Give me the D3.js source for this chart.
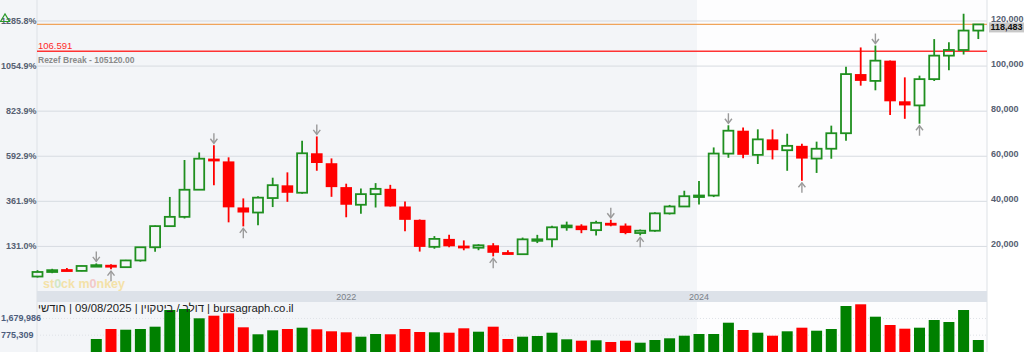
<!DOCTYPE html>
<html>
<head>
<meta charset="utf-8">
<script src="https://cdn.jsdelivr.net/npm/d3@7"></script>
<style>
  body { margin: 0; background: #fff; overflow: hidden; }
  svg { display: block; font-family: "Liberation Sans", Arial, sans-serif; }
</style>
</head>
<body>
<div id="chart"></div>
<script>
// monthly candles, Apr 2020 .. Aug 2025
const months = [
  "04/2020","05/2020","06/2020","07/2020","08/2020","09/2020","10/2020","11/2020","12/2020",
  "01/2021","02/2021","03/2021","04/2021","05/2021","06/2021","07/2021","08/2021","09/2021","10/2021","11/2021","12/2021",
  "01/2022","02/2022","03/2022","04/2022","05/2022","06/2022","07/2022","08/2022","09/2022","10/2022","11/2022","12/2022",
  "01/2023","02/2023","03/2023","04/2023","05/2023","06/2023","07/2023","08/2023","09/2023","10/2023","11/2023","12/2023",
  "01/2024","02/2024","03/2024","04/2024","05/2024","06/2024","07/2024","08/2024","09/2024","10/2024","11/2024","12/2024",
  "01/2025","02/2025","03/2025","04/2025","05/2025","06/2025","07/2025","08/2025"
];
const opens = [
  6641, 8659, 9463, 9145, 11322, 11679, 10796, 13780, 19633,
  28994, 33115, 45159, 58926, 57714, 37293, 35035, 41461, 47099, 43817, 61320, 56907,
  46311, 38481, 43194, 45554, 37714, 31792, 19820, 23336, 20050, 19432, 20495, 17168,
  16547, 23130, 23150, 28473, 29227, 27219, 30471, 29230, 25938, 26967, 34657, 37718,
  42280, 42569, 61168, 71334, 60610, 67489, 62673, 64619, 58969, 63335, 70216, 96461,
  93425, 102405, 84376, 82551, 94213, 104638, 107135, 115758
];
const highs = [
  9460, 10067, 10380, 11434, 12460, 12067, 14029, 19749, 29244,
  41946, 58330, 61683, 64863, 59519, 41295, 42235, 50482, 52853, 66930, 68789, 59041,
  47827, 45661, 48086, 47313, 39903, 31957, 24572, 25135, 22673, 20988, 21447, 18318,
  23919, 25134, 29159, 30996, 29821, 31389, 31814, 30176, 27489, 35150, 38415, 44705,
  48969, 63913, 73750, 72716, 71947, 71908, 69987, 65593, 66480, 73577, 99655, 108268,
  109115, 102500, 95000, 95758, 111970, 110584, 123218, 118600
];
const lows = [
  6202, 8117, 8975, 8977, 10981, 9917, 10416, 13243, 17619,
  28722, 32384, 45115, 47160, 30681, 28893, 29360, 37458, 39787, 43321, 53569, 42001,
  32933, 34459, 37260, 37697, 26700, 17708, 18966, 19600, 18290, 18319, 15599, 16398,
  16521, 21480, 19628, 26970, 25871, 24797, 28934, 25409, 24901, 26558, 34170, 37630,
  38555, 41885, 59323, 59120, 56555, 58600, 53550, 49121, 52598, 58896, 66836, 91317,
  89256, 78248, 76606, 74434, 93377, 98200, 105127, 112000
];
const closes = [
  8658, 9461, 9138, 11323, 11680, 10784, 13781, 19625, 29001,
  33114, 45137, 58918, 57750, 37332, 35040, 41626, 47166, 43790, 61318, 57005, 46306,
  38483, 43193, 45538, 37714, 31792, 19785, 23336, 20050, 19432, 20495, 17168, 16547,
  23139, 23150, 28478, 29268, 27220, 30477, 29230, 25931, 26967, 34667, 37712, 42265,
  42582, 61198, 71333, 60637, 67491, 62678, 64619, 58970, 63329, 70215, 96449, 93429,
  102405, 84373, 82549, 94207, 104638, 107135, 115758, 118483
];
// volume starts at Aug 2020 (null = no bar)
const volumes = [
  null, null, null, null, 568000, 1109000, 1071000, 1109000, 1234000,
  2137000, 2192000, 1688000, 1829000, 1959000, 1201000, 823000, 1039000, 1109000, 1180000, 1093000, 985000,
  931000, 693000, 839000, 823000, 1109000, 947000, 931000, 909000, 1147000, 963000, 1234000, 568000,
  693000, 731000, 909000, 552000, 476000, 498000, 406000, 476000, 368000, 514000, 606000, 747000,
  839000, 839000, 1450000, 1055000, 909000, 747000, 985000, 1180000, 1017000, 1109000, 2354000, 2446000,
  1775000, 1326000, 1126000, 1180000, 1596000, 1488000, 2137000, 514000
];

const priceTicks = [20000, 40000, 60000, 80000, 100000, 120000];
const priceTickLabels = ["20,000", "40,000", "60,000", "80,000", "100,000", "120,000"];
const pctTickLabels = ["131.0%", "361.9%", "592.9%", "823.9%", "1054.9%", "1285.8%"];
const yearTicks = ["01/2022", "01/2024"];
const yearTickLabels = ["2022", "2024"];
const volumeTicks = [775309, 1679986];
const volumeTickLabels = ["775,309", "1,679,986"];

const pivotHighs = ["08/2020", "04/2021", "11/2021", "07/2023", "03/2024", "01/2025"];
const pivotLows = ["09/2020", "06/2021", "11/2022", "09/2023", "08/2024", "04/2025"];

const lastPrice = 118483;
const breakLevel = 106591;
const breakLabel = "106.591";
const rezefText = "Rezef Break - 105120.00";
// logical (right-to-left) order of the header line
const headerText = "bursagraph.co.il | דולר / ביטקוין | 09/08/2025 | חודשי";
const shadeFrom = "01/2024";

const data = months.map((m, i) => ({
  month: m, open: opens[i], high: highs[i], low: lows[i], close: closes[i], volume: volumes[i]
}));

// layout
const width = 1024, height = 352;
const plotLeft = 37, plotRight = 987;
const stripTop = 291, stripBottom = 302;

const GREEN = "#1f8f1f", RED = "#ff0000", VGREEN = "#008000";

const svg = d3.select("#chart").append("svg")
  .attr("width", width).attr("height", height);

const x = d3.scalePoint().domain(months).range([37.5, 978.3]);
const y = d3.scaleLinear().domain([0, 120000]).range([291.5, 21]);
const vy = d3.scaleLinear().domain([0, 2500000]).range([349.5, 303.3]);

// backgrounds
const shadeX = x(shadeFrom) - 2;
svg.append("rect").attr("x", 0).attr("y", 0).attr("width", shadeX).attr("height", height)
  .attr("fill", "#f3f5f8");
svg.append("rect").attr("x", shadeX).attr("y", 0).attr("width", plotRight - shadeX).attr("height", height)
  .attr("fill", "#fdfdfe");

// grid
svg.append("g").selectAll("line").data(priceTicks).join("line")
  .attr("x1", plotLeft).attr("x2", plotRight)
  .attr("y1", d => y(d)).attr("y2", d => y(d))
  .attr("stroke", "#d7dbe1").attr("stroke-width", 1);

svg.append("g").selectAll("line").data(volumeTicks).join("line")
  .attr("x1", plotLeft).attr("x2", plotRight)
  .attr("y1", d => vy(d)).attr("y2", d => vy(d))
  .attr("stroke", "#dfe2e7").attr("stroke-dasharray", "1,2");

// vertical borders
[plotLeft, plotRight].forEach(px => {
  svg.append("line").attr("x1", px).attr("x2", px).attr("y1", 0).attr("y2", height)
    .attr("stroke", "#dde1e6");
});

// watermark
const wm = svg.append("text")
  .attr("x", 43).attr("y", 287.5)
  .attr("font-weight", "bold").attr("font-size", 12.5)
  .attr("fill", "#f5e0a0").attr("opacity", 0.9);
[["st", null], ["0", "#cfe6bf"], ["ck m", null], ["0", "#f2c4c4"], ["nkey", null]].forEach(([t, c]) => {
  const s = wm.append("tspan").text(t);
  if (c) s.attr("fill", c);
});

// x strip
svg.append("rect").attr("x", plotLeft).attr("y", stripTop)
  .attr("width", plotRight - plotLeft).attr("height", stripBottom - stripTop)
  .attr("fill", "#dde2e9");
svg.append("g").selectAll("text").data(yearTicks).join("text")
  .attr("x", d => x(d)).attr("y", 299.5)
  .attr("text-anchor", "middle").attr("font-size", 9).attr("fill", "#7a7f88")
  .text((d, i) => yearTickLabels[i]);

// level lines
svg.append("line").attr("x1", plotLeft).attr("x2", plotRight)
  .attr("y1", y(lastPrice)).attr("y2", y(lastPrice))
  .attr("stroke", "#f0a45a").attr("stroke-width", 1.2);
svg.append("line").attr("x1", plotLeft).attr("x2", plotRight)
  .attr("y1", y(breakLevel)).attr("y2", y(breakLevel))
  .attr("stroke", "#ff3333").attr("stroke-width", 1.6);
svg.append("text").attr("x", 38).attr("y", y(breakLevel) - 1.8)
  .attr("font-size", 9.5).attr("fill", "#ff2a2a").text(breakLabel);
svg.append("text").attr("x", 38).attr("y", y(breakLevel) + 11.5)
  .attr("font-size", 8.5).attr("font-weight", "bold").attr("fill", "#8a8a8a").text(rezefText);

// candles
const bodyW = 10;
const candles = svg.append("g").selectAll("g").data(data).join("g");

candles.filter(d => d.close >= d.open).each(function(d) {
  const g = d3.select(this), cx = x(d.month);
  const top = y(d.close), bot = y(d.open);
  g.append("line").attr("x1", cx).attr("x2", cx).attr("y1", y(d.high)).attr("y2", top)
    .attr("stroke", GREEN).attr("stroke-width", 1.8);
  g.append("line").attr("x1", cx).attr("x2", cx).attr("y1", bot).attr("y2", y(d.low))
    .attr("stroke", GREEN).attr("stroke-width", 1.8);
  g.append("rect").attr("x", cx - bodyW / 2).attr("y", top)
    .attr("width", bodyW).attr("height", Math.max(bot - top, 1.5))
    .attr("fill", "none").attr("stroke", GREEN).attr("stroke-width", 1.8);
});

candles.filter(d => d.close < d.open).each(function(d) {
  const g = d3.select(this), cx = x(d.month);
  const top = y(d.open), bot = y(d.close);
  g.append("line").attr("x1", cx).attr("x2", cx).attr("y1", y(d.high)).attr("y2", y(d.low))
    .attr("stroke", RED).attr("stroke-width", 1.8);
  g.append("rect").attr("x", cx - (bodyW + 1.6) / 2).attr("y", Math.min(top, (top + bot) / 2 - 1.4))
    .attr("width", bodyW + 1.6).attr("height", Math.max(bot - top, 2.8))
    .attr("fill", RED);
});

// pivot arrows
const arrowCol = "#9a9a9a";
const byMonth = new Map(data.map(d => [d.month, d]));
pivotHighs.forEach(m => {
  const d = byMonth.get(m), cx = x(m), tip = y(d.high) - 2;
  svg.append("line").attr("x1", cx).attr("x2", cx).attr("y1", tip - 10).attr("y2", tip)
    .attr("stroke", arrowCol).attr("stroke-width", 1.4);
  svg.append("path").attr("d", `M${cx - 3.5},${tip - 4.5}L${cx},${tip}L${cx + 3.5},${tip - 4.5}`)
    .attr("fill", "none").attr("stroke", arrowCol).attr("stroke-width", 1.4);
});
pivotLows.forEach(m => {
  const d = byMonth.get(m), cx = x(m), tip = y(d.low) + 2;
  svg.append("line").attr("x1", cx).attr("x2", cx).attr("y1", tip).attr("y2", tip + 10)
    .attr("stroke", arrowCol).attr("stroke-width", 1.4);
  svg.append("path").attr("d", `M${cx - 3.5},${tip + 4.5}L${cx},${tip}L${cx + 3.5},${tip + 4.5}`)
    .attr("fill", "none").attr("stroke", arrowCol).attr("stroke-width", 1.4);
});

// volume
svg.append("g").selectAll("rect").data(data.filter(d => d.volume != null)).join("rect")
  .attr("x", d => x(d.month) - 5.5).attr("width", 11)
  .attr("y", d => vy(d.volume)).attr("height", d => height - vy(d.volume))
  .attr("fill", d => d.close >= d.open ? VGREEN : RED);

// header line, embedded as right-to-left text
svg.append("text").attr("x", 38).attr("y", 311.5)
  .attr("font-size", 11.3).attr("fill", "#222")
  .text("\u202B" + headerText + "\u202C");

// axes labels
const axisCol = "#566071";
svg.append("g").selectAll("text").data(priceTicks).join("text")
  .attr("x", 991).attr("y", d => y(d) + 0.5)
  .attr("font-size", 9).attr("font-weight", "bold").attr("fill", axisCol)
  .text((d, i) => priceTickLabels[i]);
svg.append("g").selectAll("text").data(priceTicks).join("text")
  .attr("x", 36.5).attr("y", d => y(d) + 3)
  .attr("text-anchor", "end")
  .attr("font-size", 9).attr("font-weight", "bold").attr("fill", axisCol)
  .text((d, i) => pctTickLabels[i]);

// green triangle marker top-left
svg.append("path").attr("d", `M0.5,${y(120000) + 0.5}L5,${y(120000) - 7}L9.5,${y(120000) + 0.5}Z`)
  .attr("fill", "none").attr("stroke", "#2a9a2a").attr("stroke-width", 1.2);

// last price tag
svg.append("rect").attr("x", 989).attr("y", y(lastPrice) - 2)
  .attr("width", 35).attr("height", 10).attr("fill", "#c8c8c8");
svg.append("text").attr("x", 990.5).attr("y", y(lastPrice) + 6)
  .attr("font-size", 9).attr("font-weight", "bold").attr("fill", "#111")
  .text(d3.format(",")(lastPrice));

// volume labels
svg.append("g").selectAll("text").data(volumeTicks).join("text")
  .attr("x", 1).attr("y", d => vy(d) + 3)
  .attr("font-size", 9).attr("font-weight", "bold").attr("fill", "#4d5d7c")
  .text((d, i) => volumeTickLabels[i]);
</script>
</body>
</html>
